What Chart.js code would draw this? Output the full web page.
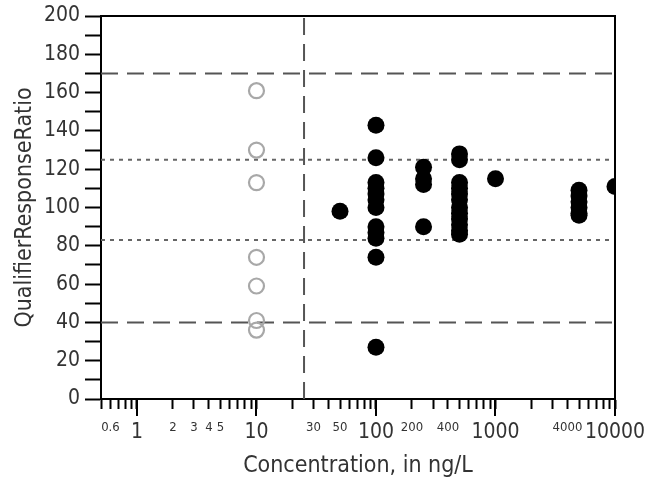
<!DOCTYPE html>
<html>
<head>
<meta charset="utf-8">
<script src="https://cdn.jsdelivr.net/npm/chart.js@4.4.0/dist/chart.umd.min.js"></script>
<style>
  html, body { margin: 0; padding: 0; background: #fff; }
  #wrap { width: 660px; height: 487px; }
</style>
</head>
<body>
<div id="wrap"><canvas id="chart"></canvas></div>
<script>
const FONT = "'Liberation Sans Narrow', 'DejaVu Sans Condensed', 'Liberation Sans', sans-serif";

// samples below the reporting level (open circles)
const censoredX = [10, 10, 10, 10, 10, 10, 10];
const censoredY = [161, 130, 113, 74, 59, 41, 36];

// detected samples (filled circles), grouped by spiked concentration
const concentrations = [50, 100, 250, 500, 1000, 5000, 10000];
const ratiosByConc = [
    [98],
    [143, 126, 113, 110, 107, 104, 100, 90, 87, 84, 74, 27],
    [121, 115, 112, 90],
    [128, 125, 113, 110, 107, 104, 100, 97, 94, 91, 88, 86],
    [115],
    [109, 106, 103, 100, 97, 96],
    [111]
];

// limits
const outerLimits = [170, 40];     // dashed
const innerLimits = [125, 83];     // dotted
const reportingLevel = 25;          // vertical dashed

// axis ticks
const xMin = 0.5, xMax = 10000;
const xMajorLabels = ['1', '10', '100', '1000', '10000'];
const xMinorLabels = ['0.6', '2', '3', '4', '5', '30', '50', '200', '400', '4000'];

const xMajorTicks = xMajorLabels.map(Number);
const xAllTicks = [0.5, 0.6, 0.7, 0.8, 0.9];
[1, 10, 100, 1000].forEach(d => { for (let m = 1; m < 10; m++) xAllTicks.push(m * d); });
xAllTicks.push(10000);

function sameVal(a, b) { return Math.abs(a - b) < 1e-6 * Math.max(1, b); }
function isMajor(v) { return xMajorTicks.some(t => sameVal(v, t)); }
function xLabelFor(v) {
    const all = xMajorLabels.concat(xMinorLabels);
    const hit = all.find(l => sameVal(v, Number(l)));
    return hit === undefined ? '' : hit;
}

const detected = [];
concentrations.forEach((c, i) => ratiosByConc[i].forEach(r => detected.push({ x: c, y: r })));
const censored = censoredX.map((x, i) => ({ x: x, y: censoredY[i] }));

function hLine(y, dash, color) {
    return {
        type: 'line', data: [{ x: xMin, y: y }, { x: xMax, y: y }],
        borderColor: color, borderWidth: 2, borderDash: dash,
        pointRadius: 0, fill: false, order: 2, clip: 0
    };
}

const frame = {
    id: 'frame',
    afterDraw(chart) {
        const { ctx, chartArea: a } = chart;
        const x = chart.scales.x;
        ctx.save();
        ctx.strokeStyle = '#000';
        ctx.lineWidth = 2;
        ctx.beginPath();
        ctx.moveTo(a.left - 1, a.top);
        ctx.lineTo(a.right, a.top);
        ctx.lineTo(a.right, a.bottom);
        xMajorTicks.forEach(v => {
            const px = Math.round(x.getPixelForValue(v));
            ctx.moveTo(px, a.bottom);
            ctx.lineTo(px, a.bottom + 17);
        });
        ctx.stroke();
        ctx.restore();
    }
};

new Chart(document.getElementById('chart'), {
    type: 'scatter',
    data: {
        datasets: [
            {
                data: detected, backgroundColor: '#000', borderColor: '#000',
                pointRadius: 8.5, borderWidth: 0, order: 0, clip: 0
            },
            {
                data: censored, backgroundColor: 'rgba(0,0,0,0)', borderColor: '#a8a8a8',
                pointRadius: 7.5, borderWidth: 2.2, order: 0, clip: 0
            },
            hLine(outerLimits[0], [17, 9], '#555'),
            hLine(outerLimits[1], [17, 9], '#555'),
            hLine(innerLimits[0], [4, 5], '#666'),
            hLine(innerLimits[1], [4, 5], '#666'),
            {
                type: 'line', data: [{ x: reportingLevel, y: 0 }, { x: reportingLevel, y: 200 }],
                borderColor: '#555', borderWidth: 2, borderDash: [17, 9],
                pointRadius: 0, fill: false, order: 2, clip: 0
            }
        ]
    },
    options: {
        responsive: true,
        maintainAspectRatio: false,
        animation: false,
        events: [],
        layout: { padding: { left: 0, top: 16, right: 45, bottom: 0 } },
        plugins: { legend: { display: false }, tooltip: { enabled: false } },
        scales: {
            x: {
                type: 'logarithmic', min: xMin, max: xMax,
                afterBuildTicks: s => { s.ticks = xAllTicks.map(v => ({ value: v })); },
                afterFit: s => { s.height = 88; s.paddingLeft = 0; s.paddingRight = 0; },
                ticks: {
                    autoSkip: false, maxRotation: 0, minRotation: 0, padding: 11,
                    color: '#333',
                    callback: v => xLabelFor(v),
                    font: c => ({ family: FONT, size: (c.tick && isMajor(c.tick.value)) ? 21 : 13 })
                },
                grid: { drawOnChartArea: false, tickLength: 10, tickWidth: 2, tickColor: '#000' },
                border: { color: '#000', width: 2 },
                title: {
                    display: true, text: 'Concentration, in ng/L', color: '#333',
                    font: { family: FONT, size: 23 }, padding: { top: 0, bottom: 7 }
                }
            },
            y: {
                min: 0, max: 200,
                afterFit: s => { s.width = 101; s.paddingTop = 0; s.paddingBottom = 0; },
                ticks: {
                    stepSize: 10, autoSkip: false, padding: 5, color: '#333',
                    callback: v => (v % 20 === 0 ? String(v) : ''),
                    font: { family: FONT, size: 21 }
                },
                grid: { drawOnChartArea: false, tickLength: 16, tickWidth: 2, tickColor: '#000' },
                border: { color: '#000', width: 2 },
                title: {
                    display: true, text: 'QualifierResponseRatio', color: '#333',
                    font: { family: FONT, size: 23 }, padding: { top: 11, bottom: 0 }
                }
            }
        }
    },
    plugins: [frame]
});
</script>
</body>
</html>
